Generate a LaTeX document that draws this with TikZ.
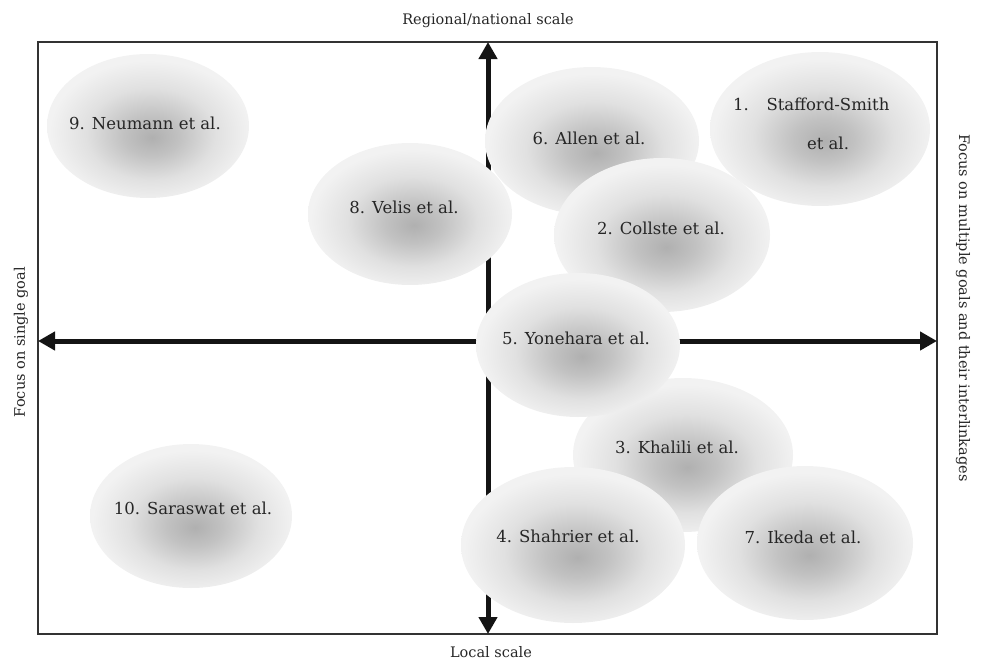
\documentclass[tikz,border=0pt]{standalone}
\usepackage{fontspec}
\setmainfont{DejaVu Serif}
\usetikzlibrary{arrows.meta,shapes.geometric}
\pgfdeclareradialshading{blob}{\pgfpoint{1bp}{-4bp}}{color(0bp)=(black!31); color(7bp)=(black!24); color(16bp)=(black!12); color(25bp)=(black!5); color(50bp)=(black!5)}
\tikzset{
  blobshape/.style={ellipse, draw=none, inner sep=0pt, shade, shading=blob},
  lbl/.style={font=\fontsize{16.5}{20}\selectfont, inner sep=0pt, text=black!85},
  axislbl/.style={font=\fontsize{14.5}{17}\selectfont, inner sep=0pt, text=black!85},
  axisarrow/.style={line width=5pt, draw=black!92, {Triangle[length=17pt,width=18pt]}-{Triangle[length=17pt,width=18pt]}},
  framebox/.style={draw=black!80, line width=1.3pt}
}
\begin{document}
\begin{tikzpicture}[x=1pt,y=-1pt]
\useasboundingbox (0,0) rectangle (981,661);
% frame
\coordinate (fNW) at (38,42);
\coordinate (fSE) at (937,634);
\draw[framebox] (fNW) rectangle (fSE);
% axis end points
\coordinate (aT) at (488,42);
\coordinate (aB) at (488,634);
\coordinate (aL) at (38,341);
\coordinate (aR) at (937,341);
\draw[axisarrow] (aB) -- (aT);
\draw[axisarrow] (aL) -- (aR);
% axis labels
\node[axislbl] (lt) at (488,21) {Regional/national scale};
\node[axislbl] (lb) at (491,652) {Local scale};
\node[axislbl, rotate=90] (ll) at (21,342) {Focus on single goal};
\node[axislbl, rotate=-90] (lr) at (963,308) {Focus on multiple goals and their interlinkages};
% ellipses (drawing order = stacking order)
\node[blobshape, minimum width=202pt, minimum height=144pt] (e9) at (148,126) {};
\node[blobshape, minimum width=204pt, minimum height=142pt] (e8) at (410,214) {};
\node[blobshape, minimum width=214pt, minimum height=148pt] (e6) at (592,141) {};
\node[blobshape, minimum width=220pt, minimum height=154pt] (e1) at (820,129) {};
\node[blobshape, minimum width=216pt, minimum height=154pt] (e2) at (662,235) {};
\node[blobshape, minimum width=220pt, minimum height=154pt] (e3) at (683,455) {};
\node[blobshape, minimum width=204pt, minimum height=144pt] (e5) at (578,345) {};
\node[blobshape, minimum width=224pt, minimum height=156pt] (e4) at (573,545) {};
\node[blobshape, minimum width=216pt, minimum height=154pt] (e7) at (805,543) {};
\node[blobshape, minimum width=202pt, minimum height=144pt] (e10) at (191,516) {};
% labels
\node[lbl] (t9) at (145,123) {9. Neumann et al.};
\node[lbl] (t8) at (404,207) {8. Velis et al.};
\node[lbl] (t6) at (589,138) {6. Allen et al.};
\node[lbl] (t1n) at (741,104) {1.};
\node[lbl] (t1a) at (828,104) {Stafford-Smith};
\node[lbl] (t1b) at (828,143) {et al.};
\node[lbl] (t2) at (661,228) {2. Collste et al.};
\node[lbl] (t5) at (576,338) {5. Yonehara et al.};
\node[lbl] (t3) at (677,447) {3. Khalili et al.};
\node[lbl] (t4) at (568,536) {4. Shahrier et al.};
\node[lbl] (t7) at (803,537) {7. Ikeda et al.};
\node[lbl] (t10) at (193,508) {10. Saraswat et al.};
\end{tikzpicture}
\end{document}
